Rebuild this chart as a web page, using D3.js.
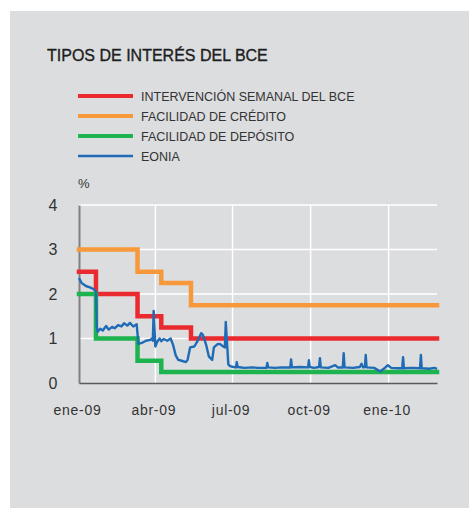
<!DOCTYPE html>
<html>
<head>
<meta charset="utf-8">
<script src="https://cdn.jsdelivr.net/npm/d3@7/dist/d3.min.js"></script>
<style>
  html, body { margin: 0; padding: 0; background: #ffffff; }
  svg { display: block; font-family: "Liberation Sans", Arial, sans-serif; }
</style>
</head>
<body>
<svg id="chart" width="469" height="508"></svg>
<script>
"use strict";

// official ECB rates (step changes)
const rateDates = ["2009-01-01", "2009-01-21", "2009-03-11", "2009-04-08", "2009-05-13", "2010-02-27"];
const mroValues = [2.5, 2.0, 1.5, 1.25, 1.0, 1.0];
const mlfValues = [3.0, 3.0, 2.5, 2.25, 1.75, 1.75];
const depValues = [2.0, 1.0, 0.5, 0.25, 0.25, 0.25];

// EONIA
const eoniaDates = [
  "2009-01-01", "2009-01-04", "2009-01-09", "2009-01-14", "2009-01-19", "2009-01-21", "2009-01-22", "2009-01-23",
  "2009-01-26", "2009-01-29", "2009-02-02", "2009-02-05", "2009-02-09", "2009-02-12", "2009-02-16", "2009-02-20",
  "2009-02-23", "2009-02-27", "2009-03-02", "2009-03-06", "2009-03-10", "2009-03-12", "2009-03-16", "2009-03-21",
  "2009-03-26", "2009-03-28", "2009-03-29", "2009-03-30", "2009-04-01", "2009-04-03", "2009-04-06", "2009-04-08",
  "2009-04-11", "2009-04-15", "2009-04-19", "2009-04-22", "2009-04-25", "2009-04-28", "2009-05-02", "2009-05-07",
  "2009-05-09", "2009-05-12", "2009-05-17", "2009-05-21", "2009-05-25", "2009-05-27", "2009-05-31", "2009-06-03",
  "2009-06-07", "2009-06-09", "2009-06-13", "2009-06-16", "2009-06-20", "2009-06-22", "2009-06-23", "2009-06-26",
  "2009-06-28", "2009-07-02", "2009-07-05", "2009-07-06", "2009-07-07", "2009-07-15", "2009-07-24", "2009-07-31",
  "2009-08-10", "2009-08-11", "2009-08-12", "2009-08-20", "2009-08-28", "2009-09-07", "2009-09-08", "2009-09-09",
  "2009-09-18", "2009-09-28", "2009-09-29", "2009-09-30", "2009-10-05", "2009-10-11", "2009-10-12", "2009-10-13",
  "2009-10-22", "2009-10-30", "2009-11-02", "2009-11-08", "2009-11-09", "2009-11-10", "2009-11-20", "2009-11-28",
  "2009-11-30", "2009-12-02", "2009-12-04", "2009-12-05", "2009-12-06", "2009-12-15", "2009-12-22", "2009-12-27",
  "2009-12-31", "2010-01-04", "2010-01-12", "2010-01-17", "2010-01-18", "2010-01-19", "2010-01-28", "2010-02-07",
  "2010-02-08", "2010-02-09", "2010-02-18", "2010-02-24", "2010-02-27"
];
const eoniaValues = [
  2.36, 2.25, 2.18, 2.15, 2.10, 2.05, 1.25, 1.15,
  1.22, 1.18, 1.28, 1.20, 1.26, 1.23, 1.30, 1.27,
  1.34, 1.29, 1.35, 1.27, 1.32, 0.88, 0.90, 0.95,
  0.97, 1.00, 0.95, 1.62, 0.82, 0.92, 1.00, 0.94,
  0.99, 0.95, 1.00, 0.85, 0.62, 0.52, 0.50, 0.47,
  0.52, 0.80, 0.82, 0.95, 1.12, 1.08, 0.85, 0.60,
  0.52, 0.80, 0.87, 0.88, 0.82, 0.80, 1.37, 0.42,
  0.38, 0.36, 0.35, 0.47, 0.36, 0.34, 0.35, 0.34,
  0.34, 0.45, 0.35, 0.34, 0.35, 0.35, 0.53, 0.35,
  0.36, 0.35, 0.51, 0.36, 0.34, 0.36, 0.56, 0.35,
  0.34, 0.40, 0.35, 0.35, 0.67, 0.35, 0.34, 0.36,
  0.43, 0.35, 0.36, 0.63, 0.35, 0.34, 0.26, 0.33,
  0.40, 0.34, 0.33, 0.33, 0.58, 0.33, 0.34, 0.33,
  0.63, 0.33, 0.32, 0.34, 0.32
];

const yTicks = [0, 1, 2, 3, 4];
const xTickDates = ["2009-01-01", "2009-04-01", "2009-07-01", "2009-10-01", "2010-01-01"];
const xTickLabels = ["ene-09", "abr-09", "jul-09", "oct-09", "ene-10"];

const seriesNames = ["INTERVENCIÓN SEMANAL DEL BCE", "FACILIDAD DE CRÉDITO", "FACILIDAD DE DEPÓSITO", "EONIA"];
const seriesColors = ["#ea2a2f", "#f7993a", "#1db34f", "#1f6bb6"];

const parse = d3.timeParse("%Y-%m-%d");
const TEXT = "#333333";

let svg = d3.select("#chart");

svg.append("rect")
   .attr("x", 10)
   .attr("y", 11)
   .attr("width", 459)
   .attr("height", 497)
   .attr("fill", "#dcdddf");

svg.append("text")
   .attr("x", 47)
   .attr("y", 61)
   .attr("font-size", 16)
   .attr("fill", "#1e1e1e")
   .attr("stroke", "#1e1e1e")
   .attr("stroke-width", 0.35)
   .text("TIPOS DE INTERÉS DEL BCE");

// legend
let legend = svg.append("g");
seriesNames.forEach((name, i) =>
{
    let ly = 96 + i * 20;
    legend.append("line")
          .attr("x1", 78)
          .attr("x2", 133)
          .attr("y1", ly)
          .attr("y2", ly)
          .attr("stroke", seriesColors[i])
          .attr("stroke-width", i === 3 ? 2.5 : 4);
    legend.append("text")
          .attr("x", 141)
          .attr("y", ly)
          .attr("dy", "0.36em")
          .attr("font-size", 12.5)
          .attr("fill", TEXT)
          .text(name);
});

svg.append("text")
   .attr("x", 78)
   .attr("y", 183)
   .attr("dy", "0.36em")
   .attr("font-size", 13)
   .attr("fill", TEXT)
   .text("%");

const LEFT = 79, RIGHT = 437, TOP = 205, BOTTOM = 383;

let x = d3.scaleTime()
          .domain([parse("2009-01-01"), parse("2010-02-27")])
          .range([LEFT, RIGHT]);
let y = d3.scaleLinear()
          .domain([0, 4])
          .range([BOTTOM, TOP]);

// grid
svg.append("g")
   .selectAll("line")
   .data(yTicks.filter(d => d > 0))
   .join("line")
   .attr("x1", LEFT)
   .attr("x2", RIGHT)
   .attr("y1", d => y(d))
   .attr("y2", d => y(d))
   .attr("stroke", "#ffffff")
   .attr("stroke-width", 1.5);

svg.append("g")
   .selectAll("line")
   .data(xTickDates.slice(1))
   .join("line")
   .attr("x1", d => x(parse(d)))
   .attr("x2", d => x(parse(d)))
   .attr("y1", TOP)
   .attr("y2", BOTTOM)
   .attr("stroke", "#ffffff")
   .attr("stroke-width", 1.5);

// axes
let yAxis = svg.append("g")
               .attr("transform", "translate(" + LEFT + ",0)")
               .call(d3.axisLeft(y)
                       .tickValues(yTicks)
                       .tickFormat(d3.format("d"))
                       .tickSize(0));
yAxis.select(".domain").attr("stroke", "#808080").attr("stroke-width", 2);
yAxis.selectAll("text")
     .attr("font-size", 16)
     .attr("fill", TEXT)
     .attr("font-family", "Liberation Sans, Arial, sans-serif")
     .attr("text-anchor", "middle")
     .attr("x", -26);

let xAxis = svg.append("g")
               .attr("transform", "translate(0," + BOTTOM + ")")
               .call(d3.axisBottom(x)
                       .tickValues(xTickDates.map(parse))
                       .tickFormat((d, i) => xTickLabels[i])
                       .tickSize(0)
                       .tickPadding(22));
xAxis.select(".domain").attr("stroke", "#5a5a5a").attr("stroke-width", 1.5);
xAxis.selectAll("text")
     .attr("font-size", 14)
     .attr("fill", TEXT)
     .attr("font-family", "Liberation Sans, Arial, sans-serif")
     .attr("letter-spacing", 0.7)
     .attr("dx", -2);

// series
let stepLine = d3.line()
                 .curve(d3.curveStepAfter)
                 .x(d => x(d[0]))
                 .y(d => y(d[1]));

let steps = [mlfValues, mroValues, depValues];
let stepColors = [seriesColors[1], seriesColors[0], seriesColors[2]];
steps.forEach((vals, i) =>
{
    svg.append("path")
       .datum(rateDates.map((d, j) => [parse(d), vals[j]]))
       .attr("fill", "none")
       .attr("stroke", stepColors[i])
       .attr("stroke-width", 4.5)
       .attr("stroke-linecap", "square")
       .attr("d", stepLine);
});

let eoniaLine = d3.line()
                  .x(d => x(d[0]))
                  .y(d => y(d[1]));

svg.append("path")
   .datum(eoniaDates.map((d, j) => [parse(d), eoniaValues[j]]))
   .attr("fill", "none")
   .attr("stroke", seriesColors[3])
   .attr("stroke-width", 2.4)
   .attr("stroke-linejoin", "round")
   .attr("d", eoniaLine);
</script>
</body>
</html>
